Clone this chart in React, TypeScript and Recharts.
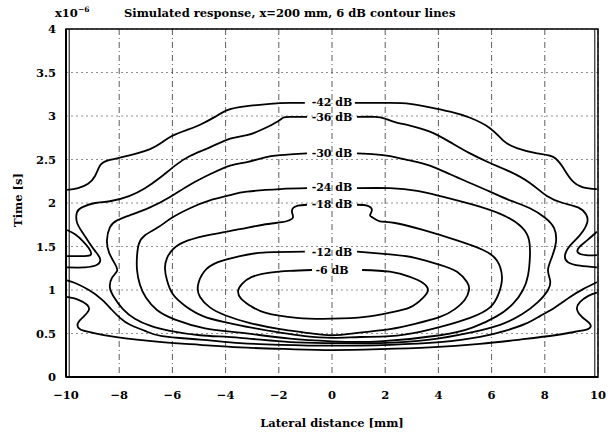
import React from 'react';
import { LineChart, Line, XAxis, YAxis, CartesianGrid, ReferenceDot, ReferenceArea, ReferenceLine } from 'recharts';

// ---- axis ticks ----
const xTicks = [-10, -8, -6, -4, -2, 0, 2, 4, 6, 8, 10];
const yTicks = [0, 0.5, 1, 1.5, 2, 2.5, 3, 3.5, 4];

// ---- contour labels (level, y position at x = 0) ----
const levelNames = ['-42 dB', '-36 dB', '-30 dB', '-24 dB', '-18 dB', '-12 dB', '-6 dB'];
const levelLabelY = [3.16, 2.99, 2.57, 2.18, 1.99, 1.43, 1.23];

// ---- contour traces: [lateral mm, time x1e-6 s] ----
const c42TopLeft = [[-9.96,2.15],[-9.55,2.17],[-9.17,2.22],[-8.91,2.31],[-8.72,2.43],[-8.42,2.49],[-7.86,2.53],[-7.33,2.57],[-6.84,2.62],[-6.47,2.68],[-6.02,2.77],[-5.45,2.84],[-4.96,2.9],[-4.4,2.99],[-3.91,3.07],[-3.27,3.11],[-2.33,3.14],[-1.58,3.15],[-1.02,3.15]];
const c42TopRight = [[0.86,3.15],[2.18,3.15],[2.93,3.14],[3.68,3.1],[4.44,3.05],[5.19,2.98],[5.94,2.86],[6.43,2.72],[6.95,2.63],[7.71,2.57],[8.31,2.53],[8.68,2.41],[9.02,2.26],[9.44,2.18],[9.96,2.16]];
const c42Bottom = [[-9.96,0.92],[-9.55,0.89],[-9.21,0.83],[-9.14,0.77],[-9.32,0.7],[-9.55,0.62],[-9.47,0.55],[-9.02,0.51],[-8.16,0.46],[-6.39,0.4],[-4.96,0.37],[-3.46,0.34],[-1.58,0.32],[0,0.31],[1.8,0.32],[3.68,0.34],[5.56,0.38],[7.07,0.43],[8.38,0.48],[9.14,0.52],[9.62,0.55],[9.7,0.61],[9.4,0.69],[9.21,0.78],[9.32,0.86],[9.62,0.93],[9.96,0.97]];

const c36TopLeft = [[-0.94,2.99],[-1.58,2.99],[-1.84,2.98],[-2.03,2.94],[-2.59,2.85],[-3.2,2.78],[-3.83,2.74],[-4.59,2.64],[-5.34,2.54],[-5.9,2.43],[-6.47,2.29],[-7.03,2.17],[-7.63,2.08],[-8.35,2.02],[-8.91,2.0],[-9.4,1.95],[-9.59,1.89],[-9.59,1.78],[-9.4,1.67],[-9.14,1.55],[-8.91,1.45],[-8.72,1.36],[-8.83,1.29],[-9.29,1.26],[-9.96,1.26]];
const c36TopRight = [[0.94,2.99],[1.62,2.99],[1.99,2.97],[2.37,2.93],[2.93,2.89],[3.68,2.82],[4.44,2.7],[5.19,2.57],[5.94,2.46],[6.69,2.36],[7.44,2.23],[8.08,2.08],[8.68,2.0],[9.25,1.95],[9.55,1.87],[9.59,1.77],[9.32,1.63],[8.95,1.51],[8.76,1.4],[8.87,1.32],[9.32,1.28],[9.96,1.26]];
const c36LoopLeft = [[-9.96,1.69],[-9.66,1.64],[-9.36,1.56],[-9.14,1.48],[-9.06,1.41],[-9.32,1.39],[-9.96,1.39]];
const c36LoopRight = [[9.96,1.67],[9.59,1.57],[9.29,1.49],[9.25,1.43],[9.55,1.4],[9.96,1.4]];
const c36Bottom = [[-9.96,1.11],[-9.66,1.08],[-9.14,1.0],[-8.65,0.89],[-8.27,0.77],[-7.97,0.68],[-7.59,0.6],[-7.03,0.53],[-6.39,0.47],[-4.96,0.43],[-3.46,0.39],[-1.95,0.37],[0,0.36],[2.18,0.37],[4.06,0.4],[5.56,0.46],[6.5,0.53],[7.26,0.61],[7.82,0.7],[8.38,0.8],[8.95,0.92],[9.44,1.01],[9.96,1.09]];

const c30 = [[-0.94,2.57],[-1.95,2.55],[-2.59,2.52],[-3.2,2.47],[-3.83,2.43],[-4.59,2.33],[-5.34,2.21],[-6.09,2.07],[-6.84,1.95],[-7.59,1.86],[-8.08,1.8],[-8.35,1.72],[-8.46,1.57],[-8.38,1.43],[-8.16,1.3],[-8.08,1.22],[-8.27,1.14],[-8.35,1.03],[-8.2,0.92],[-7.86,0.78],[-7.41,0.67],[-6.84,0.59],[-6.09,0.53],[-4.96,0.48],[-3.46,0.45],[-1.58,0.4],[0,0.39],[1.8,0.39],[3.68,0.43],[5.19,0.51],[6.32,0.6],[7.14,0.72],[7.74,0.86],[8.12,1.0],[8.2,1.11],[8.12,1.23],[8.27,1.38],[8.42,1.55],[8.35,1.71],[8.01,1.83],[7.44,1.94],[6.69,2.03],[5.94,2.13],[5.19,2.23],[4.44,2.33],[3.68,2.43],[2.93,2.49],[2.18,2.54],[1.62,2.56],[0.94,2.57]];

const c24 = [[-0.94,2.17],[-1.95,2.16],[-3.2,2.13],[-3.83,2.09],[-4.59,2.03],[-5.34,1.94],[-6.02,1.83],[-6.54,1.72],[-7.03,1.63],[-7.26,1.53],[-7.33,1.39],[-7.33,1.23],[-7.22,1.06],[-6.99,0.91],[-6.58,0.77],[-5.9,0.66],[-4.77,0.56],[-3.46,0.51],[-1.58,0.44],[0,0.41],[1.8,0.41],[4.06,0.48],[5.3,0.57],[6.2,0.7],[6.8,0.84],[7.18,1.0],[7.37,1.17],[7.44,1.38],[7.41,1.57],[7.14,1.72],[6.43,1.86],[5.3,1.98],[4.06,2.08],[3.2,2.14],[2.18,2.17],[0.94,2.17]];

const c18 = [[-0.94,1.98],[-1.28,1.97],[-1.47,1.94],[-1.5,1.89],[-1.47,1.83],[-1.62,1.8],[-1.88,1.78],[-2.59,1.75],[-3.46,1.7],[-4.51,1.64],[-5.41,1.57],[-5.94,1.48],[-6.2,1.37],[-6.28,1.25],[-6.2,1.11],[-5.98,0.95],[-5.53,0.82],[-4.85,0.7],[-4.02,0.63],[-3.08,0.57],[-1.95,0.51],[-1.02,0.47],[0,0.45],[1.05,0.46],[2.18,0.47],[3.31,0.52],[4.25,0.59],[5.19,0.68],[5.94,0.8],[6.28,0.97],[6.39,1.15],[6.2,1.34],[5.68,1.46],[4.7,1.57],[3.42,1.69],[2.37,1.77],[1.8,1.79],[1.54,1.83],[1.43,1.86],[1.5,1.92],[1.32,1.97],[0.94,1.98]];

const c12 = [[-1.02,1.44],[-2.59,1.43],[-3.46,1.39],[-4.29,1.32],[-4.81,1.21],[-5.04,1.05],[-4.96,0.92],[-4.59,0.8],[-4.02,0.71],[-3.08,0.62],[-1.95,0.55],[-1.02,0.51],[0,0.48],[1.05,0.51],[2.18,0.55],[3.12,0.61],[4.06,0.69],[4.62,0.78],[5.0,0.89],[5.15,1.0],[5.08,1.09],[4.7,1.21],[4.06,1.29],[3.12,1.37],[2.18,1.41],[0.94,1.44]];

const c6 = [[-0.75,1.23],[-1.58,1.22],[-2.33,1.2],[-3.01,1.15],[-3.38,1.07],[-3.53,0.99],[-3.42,0.9],[-3.08,0.82],[-2.52,0.74],[-1.32,0.68],[0,0.67],[1.24,0.69],[2.18,0.74],[2.93,0.8],[3.42,0.91],[3.61,1.0],[3.42,1.08],[2.93,1.15],[2.18,1.21],[1.13,1.23]];

const traces = [c42TopLeft, c42TopRight, c42Bottom, c36TopLeft, c36TopRight, c36LoopLeft, c36LoopRight, c36Bottom, c30, c24, c18, c12, c6];

const toPoints = (arr: number[][]) => arr.map(([x, y]) => ({ x, y }));

const FONT = '"DejaVu Serif", serif';
const fmt = (v: number) => (v < 0 ? '\u2212' + Math.abs(v) : String(v));
const textStyle: React.CSSProperties = { position: 'absolute', fontSize: 11.5, fontWeight: 'bold', whiteSpace: 'nowrap', lineHeight: '14px' };

export default function App() {
  return (
    <div style={{ position: 'absolute', left: 0, top: 0, width: 610, height: 434, background: '#fff', fontFamily: FONT }}>
      <div style={{ ...textStyle, left: 124, top: 6 }}>
        Simulated response, x=200 mm, 6 dB contour lines
      </div>
      <div style={{ ...textStyle, left: 55, top: 6 }}>
        x10<sup style={{ fontSize: 7.5, verticalAlign: 'top', lineHeight: '8px' }}>−6</sup>
      </div>
      <div style={{ ...textStyle, left: 332, top: 416, transform: 'translateX(-50%)' }}>
        Lateral distance [mm]
      </div>
      <div style={{ ...textStyle, left: 18, top: 200, transform: 'translate(-50%, -50%) rotate(-90deg)' }}>
        Time [s]
      </div>
      <LineChart width={610} height={434} margin={{ top: 29, right: 12, bottom: 27, left: 0 }}>
        <CartesianGrid vertical={false} stroke="#777" strokeDasharray="2 3" strokeWidth={0.8} />
        <CartesianGrid horizontal={false} stroke="#333" strokeDasharray="6 3 1 3" strokeWidth={0.8} />
        <XAxis
          type="number"
          dataKey="x"
          domain={[-10, 10]}
          ticks={xTicks}
          allowDataOverflow
          height={30}
          tickLine={false}
          tickSize={4}
          tickMargin={10}
          axisLine={{ stroke: '#000', strokeWidth: 2 }}
          tickFormatter={fmt}
          tick={{ fill: '#000', fontSize: 11.5, fontWeight: 'bold', fontFamily: FONT }}
        />
        <YAxis
          type="number"
          dataKey="y"
          domain={[0, 4]}
          ticks={yTicks}
          allowDataOverflow
          width={66}
          tickLine={false}
          tickSize={4}
          tickMargin={6}
          axisLine={{ stroke: '#000', strokeWidth: 2 }}
          tick={{ fill: '#000', fontSize: 11.5, fontWeight: 'bold', fontFamily: FONT }}
        />
        <ReferenceArea x1={-10} x2={10} y1={0} y2={4} fill="none" stroke="#000" strokeWidth={1.5} />
        <ReferenceLine x={-9.88} stroke="#000" strokeWidth={1} />
        <ReferenceLine x={9.88} stroke="#000" strokeWidth={1} />
        {traces.map((t, i) => (
          <Line
            key={i}
            data={toPoints(t)}
            dataKey="y"
            type="natural"
            stroke="#000"
            strokeWidth={1.8}
            dot={false}
            activeDot={false}
            isAnimationActive={false}
          />
        ))}
        {levelNames.map((name, i) => (
          <ReferenceDot
            key={name}
            x={0}
            y={levelLabelY[i]}
            r={0}
            fill="none"
            stroke="none"
            label={{ value: name, position: 'center', fill: '#000', fontSize: 11, fontWeight: 'bold', fontFamily: FONT }}
          />
        ))}
      </LineChart>
    </div>
  );
}
